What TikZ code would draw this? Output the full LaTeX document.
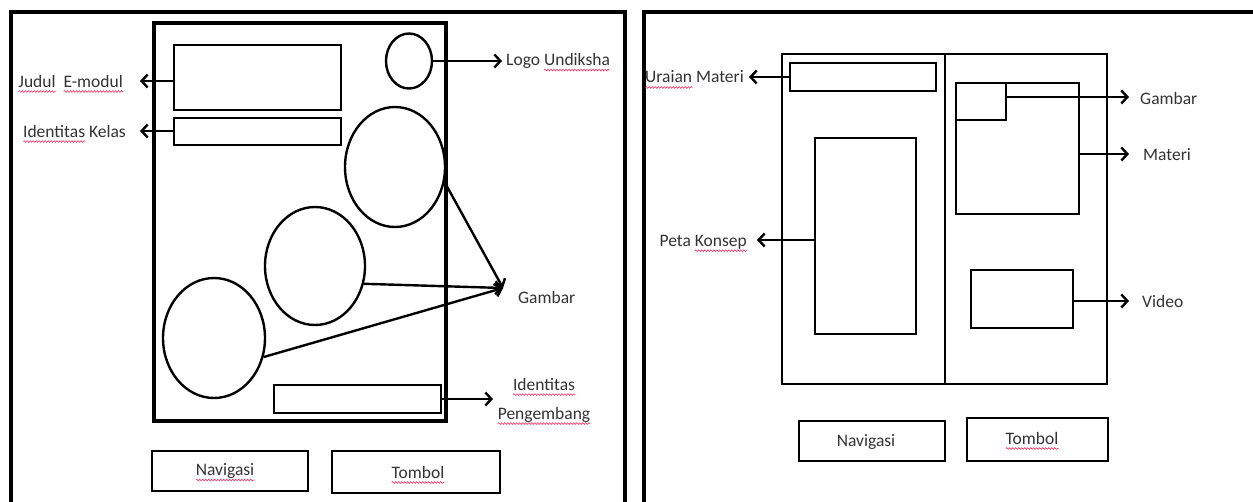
\documentclass[tikz,border=0pt]{standalone}
\usepackage{fontspec}
\setmainfont{Carlito}
\usetikzlibrary{arrows.meta,shapes.geometric,decorations.pathmorphing}
\newsavebox\sqbox
\newcommand\sq[1]{\sbox\sqbox{#1}\rlap{\tikz[baseline=0pt,x=1pt,y=1pt]{\useasboundingbox (0,0);\draw[red!75!magenta!80, line width=0.6pt, decorate, decoration={snake,segment length=3pt,amplitude=0.9pt}] (0,-4.5) -- (\the\wd\sqbox,-4.5);}}\usebox\sqbox}
\tikzset{
  frame/.style={draw, line width=3.2pt, inner sep=0pt},
  screen/.style={draw, line width=3.2pt, inner sep=0pt},
  box/.style={draw, line width=2.4pt, inner sep=0pt},
  oval/.style={draw, ellipse, line width=2.4pt, inner sep=0pt},
  arr/.style={line width=2.4pt, -{Straight Barb[length=6pt,width=13pt]}},
  lbl/.style={inner sep=0pt, font=\fontsize{17.5}{29}\selectfont, text=black!80},
}
\begin{document}
\begin{tikzpicture}[x=1pt,y=-1pt]
\useasboundingbox[fill=white] (0,0) rectangle (1253,501);
\clip (0,0) rectangle (1253,501);
% ---------------- left panel ----------------
\node[frame, minimum width=614pt, minimum height=510pt] (frameL) at (318,267) {};
\node[screen, minimum width=292pt, minimum height=398pt] (screenL) at (300,222) {};
\node[box, minimum width=167pt, minimum height=65pt] (judul) at (257.5,77.5) {};
\node[box, minimum width=167pt, minimum height=27pt] (kelas) at (257.5,131.5) {};
\node[oval, minimum width=46pt, minimum height=55pt] (logo) at (409,61) {};
\node[oval, minimum width=100pt, minimum height=120pt] (c1) at (395,167) {};
\node[oval, minimum width=100pt, minimum height=118pt] (c2) at (315,266) {};
\node[oval, minimum width=102pt, minimum height=120pt] (c3) at (214,338) {};
\node[box, minimum width=167pt, minimum height=28pt] (pengembang) at (357.5,399) {};
\node[box, minimum width=156pt, minimum height=40pt] (navL) at (230,471) {};
\node[box, minimum width=168pt, minimum height=42pt] (tombolL) at (416,472) {};

\node[lbl, anchor=east] (tJudul) at (123,81) {\sq{Judul}\ \ \sq{E-modul}};
\node[lbl, anchor=east] (tKelas) at (126,131) {\sq{Identitas} Kelas};
\node[lbl, anchor=west] (tLogo) at (506,61) {Logo \sq{Undiksha}};
\node[lbl, anchor=west] (tGambarL) at (518,297) {Gambar};
\node[lbl, align=center] (tPeng) at (544,400) {\sq{Identitas}\\\sq{Pengembang}};
\node[lbl] (tNavL) at (225,471) {\sq{Navigasi}};
\node[lbl] (tTombolL) at (418,472) {\sq{Tombol}};

\coordinate (aJudul) at (140,81);
\coordinate (aKelas) at (140,131);
\coordinate (aLogo) at (502,61);
\coordinate (aGambar) at (503,288);
\coordinate (aPeng) at (493,399);

\draw[arr] (judul.west |- aJudul) -- (aJudul);
\draw[arr] (kelas.west |- aKelas) -- (aKelas);
\draw[arr] (logo.east) -- (aLogo);
\draw[arr] (c1.-17) -- (aGambar);
\draw[arr] (c2.-20) -- (aGambar);
\draw[arr] (c3.-21) -- (aGambar);
\draw[arr] (pengembang.east) -- (aPeng);

% ---------------- right panel ----------------
\node[frame, minimum width=616pt, minimum height=510pt] (frameR) at (952,267) {};
\node[box, minimum width=325pt, minimum height=330pt] (screenR) at (944.5,219) {};
\draw[line width=2.4pt] (screenR.north -| 945,0) -- (screenR.south -| 945,0);
\node[box, minimum width=146pt, minimum height=28pt] (uraian) at (863,77) {};
\node[box, minimum width=101pt, minimum height=196pt] (peta) at (865.5,236) {};
\node[box, minimum width=123pt, minimum height=131pt] (materi) at (1017.5,148.5) {};
\node[box, minimum width=50pt, minimum height=37pt] (gambarR) at (981,101.5) {};
\node[box, minimum width=102pt, minimum height=58pt] (video) at (1022,299) {};
\node[box, minimum width=146pt, minimum height=40pt] (navR) at (872,441) {};
\node[box, minimum width=141pt, minimum height=43pt] (tombolR) at (1037.5,439.5) {};

\node[lbl, anchor=east] (tUraian) at (744,77) {\sq{Uraian} Materi};
\node[lbl, anchor=east] (tPeta) at (747,242) {Peta \sq{Konsep}};
\node[lbl, anchor=west] (tGambarR) at (1140,98) {Gambar};
\node[lbl, anchor=west] (tMateri) at (1143,155) {Materi};
\node[lbl, anchor=west] (tVideo) at (1142,301) {Video};
\node[lbl] (tNavR) at (866,442) {Navigasi};
\node[lbl] (tTombolR) at (1032,438) {\sq{Tombol}};

\coordinate (aUraian) at (749,77);
\coordinate (aPeta) at (757,240);
\coordinate (aGambarR) at (1129,97);
\coordinate (aMateri) at (1129,154);
\coordinate (aVideo) at (1129,301);

\draw[arr] (uraian.west) -- (aUraian);
\draw[arr] (peta.west |- aPeta) -- (aPeta);
\draw[arr] (gambarR.east |- aGambarR) -- (aGambarR);
\draw[arr] (materi.east |- aMateri) -- (aMateri);
\draw[arr] (video.east |- aVideo) -- (aVideo);
\end{tikzpicture}
\end{document}
